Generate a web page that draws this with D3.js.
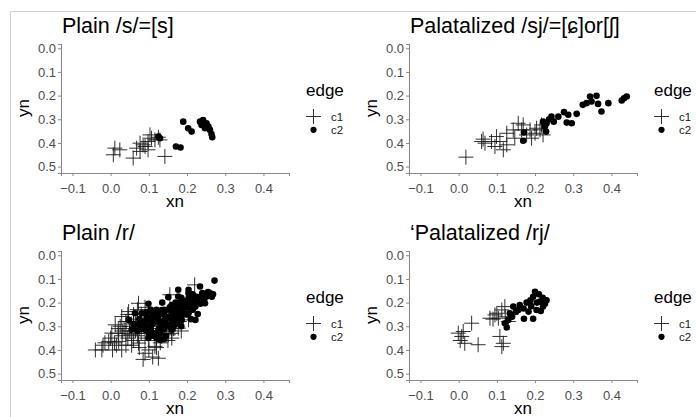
<!DOCTYPE html>
<html>
<head>
<meta charset="utf-8">
<script src="https://cdn.jsdelivr.net/npm/d3@7"></script>
<style>
  body { margin: 0; background: #fff; }
  text { font-family: "Liberation Sans", Arial, sans-serif; }
</style>
</head>
<body>
<div id="chart"></div>
<script>
// panel titles, in reading order
const titles = ["Plain /s/=[s]", "Palatalized /sj/=[ɕ]or[ʃ]", "Plain /r/", "‘Palatalized /rj/"]
const xTicks = [-0.1, 0.0, 0.1, 0.2, 0.3, 0.4]
const yTicks = [0.0, 0.1, 0.2, 0.3, 0.4, 0.5]
const edgeLevels = ["c1", "c2"]

// [xn, yn] per edge
const plainS_c1 = [[0.011, 0.422], [0.024, 0.429], [0.007, 0.45], [0.059, 0.464], [0.068, 0.422], [0.077, 0.401],
    [0.085, 0.408], [0.077, 0.436], [0.098, 0.394], [0.103, 0.366], [0.107, 0.38], [0.116, 0.387], [0.129, 0.387],
    [0.098, 0.429], [0.142, 0.457], [0.09, 0.415], [0.125, 0.376]]
const plainS_c2 = [[0.125, 0.373], [0.129, 0.38], [0.171, 0.415], [0.183, 0.419], [0.19, 0.31], [0.203, 0.338],
    [0.212, 0.352], [0.234, 0.31], [0.242, 0.303], [0.238, 0.324], [0.251, 0.317], [0.256, 0.331], [0.247, 0.338],
    [0.26, 0.345], [0.264, 0.362], [0.266, 0.376]]

const palS_c1 = [[0.019, 0.46], [0.06, 0.394], [0.069, 0.401], [0.064, 0.384], [0.086, 0.394], [0.095, 0.415],
    [0.099, 0.373], [0.108, 0.394], [0.126, 0.408], [0.117, 0.429], [0.126, 0.359], [0.143, 0.345], [0.156, 0.317],
    [0.169, 0.324], [0.165, 0.345], [0.178, 0.366], [0.187, 0.345], [0.191, 0.38], [0.2, 0.359], [0.204, 0.338],
    [0.213, 0.345], [0.221, 0.366], [0.217, 0.324], [0.147, 0.38]]
const palS_c2 = [[0.171, 0.356], [0.169, 0.391], [0.221, 0.31], [0.23, 0.317], [0.226, 0.331], [0.229, 0.352],
    [0.243, 0.289], [0.249, 0.31], [0.261, 0.289], [0.276, 0.27], [0.287, 0.281], [0.283, 0.314], [0.296, 0.317],
    [0.309, 0.277], [0.325, 0.239], [0.335, 0.232], [0.344, 0.204], [0.348, 0.225], [0.361, 0.201], [0.365, 0.235],
    [0.374, 0.267], [0.392, 0.232], [0.427, 0.221], [0.433, 0.211], [0.44, 0.204], [0.237, 0.3]]

const plainR_c1 = [[0.22, 0.125], [0.155, 0.167], [0.073, 0.203], [0.029, 0.259], [0.012, 0.294], [0.003, 0.329],
    [-0.023, 0.4], [-0.04, 0.4], [-0.005, 0.364], [0.021, 0.364], [0.029, 0.4], [0.073, 0.371], [0.09, 0.414],
    [0.125, 0.435], [0.055, 0.336], [0.047, 0.238], [0.099, 0.231], [0.134, 0.343], [0.151, 0.336], [0.177, 0.308],
    [0.204, 0.273], [0.116, 0.385], [0.0, 0.35], [0.01, 0.37], [0.02, 0.33], [0.035, 0.31], [0.04, 0.28],
    [0.05, 0.3], [0.06, 0.27], [0.065, 0.32], [0.08, 0.3], [0.085, 0.27], [0.095, 0.33], [0.1, 0.36],
    [0.105, 0.29], [0.12, 0.31], [0.13, 0.37], [0.14, 0.3], [0.16, 0.33], [0.17, 0.29], [0.19, 0.26],
    [0.11, 0.26], [0.06, 0.36], [0.045, 0.35], [0.025, 0.3], [0.015, 0.38], [-0.015, 0.37], [0.085, 0.44],
    [0.075, 0.39], [0.15, 0.36], [0.045, 0.25], [0.07, 0.23], [0.09, 0.22], [0.03, 0.34],
    [0.02, 0.31], [0.03, 0.32], [0.04, 0.33], [0.05, 0.32], [0.055, 0.29], [0.065, 0.29], [0.07, 0.34],
    [0.075, 0.31], [0.08, 0.33], [0.09, 0.35], [0.095, 0.3], [0.1, 0.32], [0.11, 0.3], [0.12, 0.35],
    [0.13, 0.32], [0.145, 0.32], [0.155, 0.3], [0.16, 0.35], [0.165, 0.31], [0.18, 0.28], [0.185, 0.32],
    [0.07, 0.28], [0.06, 0.25], [0.08, 0.25], [-0.02, 0.38], [0.005, 0.4], [0.04, 0.38], [0.055, 0.38],
    [0.1, 0.4], [0.12, 0.39], [0.14, 0.33], [0.11, 0.43]]
const plainR_c2 = [[0.272, 0.107], [0.234, 0.132], [0.256, 0.167], [0.238, 0.172], [0.247, 0.203], [0.222, 0.273],
    [0.151, 0.177], [0.099, 0.205], [0.177, 0.146], [0.204, 0.16], [0.217, 0.181], [0.191, 0.196], [0.169, 0.217],
    [0.134, 0.231], [0.116, 0.259], [0.094, 0.273], [0.073, 0.294], [0.055, 0.315], [0.099, 0.35], [0.129, 0.357],
    [0.16, 0.315], [0.204, 0.245], [0.186, 0.273], [0.142, 0.273], [0.081, 0.245], [0.047, 0.273], [0.169, 0.259],
    [0.125, 0.315], [0.09, 0.315], [0.064, 0.245], [0.195, 0.217], [0.222, 0.217], [0.177, 0.174], [0.16, 0.245],
    [0.107, 0.287], [0.204, 0.146], [0.11, 0.25], [0.12, 0.27], [0.13, 0.29], [0.14, 0.25], [0.15, 0.23],
    [0.155, 0.265], [0.165, 0.28], [0.175, 0.235], [0.18, 0.2], [0.185, 0.25], [0.19, 0.23], [0.2, 0.19],
    [0.21, 0.2], [0.215, 0.23], [0.23, 0.19], [0.24, 0.16], [0.26, 0.16], [0.265, 0.175], [0.085, 0.29],
    [0.1, 0.3], [0.115, 0.33], [0.14, 0.31], [0.15, 0.3], [0.17, 0.29], [0.06, 0.29], [0.075, 0.27],
    [0.095, 0.26], [0.105, 0.23], [0.125, 0.245], [0.135, 0.2], [0.16, 0.21], [0.145, 0.34], [0.11, 0.34],
    [0.2, 0.25], [0.21, 0.27], [0.228, 0.248],
    [0.06, 0.31], [0.07, 0.32], [0.08, 0.28], [0.09, 0.3], [0.1, 0.27], [0.105, 0.31], [0.115, 0.28],
    [0.12, 0.23], [0.125, 0.26], [0.13, 0.33], [0.135, 0.28], [0.14, 0.23], [0.145, 0.29], [0.15, 0.26],
    [0.155, 0.22], [0.16, 0.28], [0.165, 0.24], [0.17, 0.2], [0.175, 0.26], [0.18, 0.22], [0.185, 0.18],
    [0.19, 0.25], [0.195, 0.2], [0.2, 0.22], [0.205, 0.175], [0.21, 0.22], [0.22, 0.2], [0.225, 0.175],
    [0.235, 0.205], [0.245, 0.185], [0.12, 0.35], [0.1, 0.33], [0.08, 0.31], [0.13, 0.31], [0.11, 0.29],
    [0.165, 0.3], [0.175, 0.28], [0.185, 0.3], [0.14, 0.355], [0.095, 0.24], [0.25, 0.175], [0.255, 0.155],
    [0.268, 0.165], [0.215, 0.165]]

const palR_c1 = [[-0.001, 0.329], [0.012, 0.322], [0.008, 0.343], [0.016, 0.372], [0.004, 0.36], [0.034, 0.287],
    [0.051, 0.378], [0.082, 0.266], [0.095, 0.252], [0.104, 0.266], [0.113, 0.231], [0.121, 0.217], [0.108, 0.343],
    [0.117, 0.372], [0.113, 0.386], [0.13, 0.28], [0.09, 0.27], [0.122, 0.26], [0.1, 0.245]]
const palR_c2 = [[0.126, 0.305], [0.134, 0.245], [0.143, 0.217], [0.16, 0.21], [0.178, 0.2], [0.195, 0.175],
    [0.2, 0.154], [0.213, 0.196], [0.221, 0.217], [0.204, 0.231], [0.183, 0.238], [0.156, 0.231], [0.13, 0.273],
    [0.121, 0.287], [0.171, 0.268], [0.195, 0.268], [0.21, 0.165], [0.22, 0.18], [0.23, 0.19], [0.226, 0.205],
    [0.19, 0.215], [0.17, 0.225], [0.15, 0.24], [0.14, 0.26], [0.205, 0.2], [0.215, 0.235], [0.188, 0.19]]

const panelData = [[plainS_c1, plainS_c2], [palS_c1, palS_c2], [plainR_c1, plainR_c2], [palR_c1, palR_c2]]

var width = 696
var height = 417

var svg = d3.select("#chart")
    .append("svg")
    .attr("width", width)
    .attr("height", height)

svg.append("rect").attr("width", width).attr("height", height).attr("fill", "#fff")
// thin frame on top / left
svg.append("path")
    .attr("d", "M10.5," + height + "V11.5H" + width)
    .attr("fill", "none")
    .attr("stroke", "#d0d0d0")

var x = d3.scaleLinear().domain([-0.13, 0.467]).range([61, 289])
var y = d3.scaleLinear().domain([-0.018, 0.527]).range([44, 173])

function crossPath(s) {
    return "M" + (-s) + ",0H" + s + "M0," + (-s) + "V" + s
}

panelData.forEach(function (series, i) {
    var ox = (i % 2) * 348
    var oy = Math.floor(i / 2) * 207
    var g = svg.append("g").attr("transform", "translate(" + ox + "," + oy + ")")

    g.append("text")
        .attr("x", 62)
        .attr("y", 33)
        .style("font-size", "21.5px")
        .style("fill", "#000")
        .text(titles[i])

    // axes
    var xAxis = g.append("g")
        .attr("transform", "translate(0,173)")
        .call(d3.axisBottom(x).tickValues(xTicks).tickFormat(d3.format(".1f")).tickSizeOuter(0).tickSize(3))
    var yAxis = g.append("g")
        .attr("transform", "translate(61,0)")
        .call(d3.axisLeft(y).tickValues(yTicks).tickFormat(d3.format(".1f")).tickSizeOuter(0).tickSize(3))
    ;[xAxis, yAxis].forEach(function (a) {
        a.select(".domain").attr("stroke", "#8a8a8a").attr("stroke-width", 1.1)
        a.selectAll(".tick line").attr("stroke", "#8a8a8a")
        a.selectAll(".tick text")
            .style("font-family", "'Liberation Sans', Arial, sans-serif")
            .style("font-size", "13px")
            .attr("fill", "#4d4d4d")
    })
    xAxis.selectAll(".tick text").attr("dy", "1.05em")
    yAxis.selectAll(".tick text").attr("x", -5)

    g.append("text")
        .attr("x", 175)
        .attr("y", 206.5)
        .attr("text-anchor", "middle")
        .style("font-size", "17px")
        .text("xn")
    g.append("text")
        .attr("transform", "translate(28.5,108) rotate(-90)")
        .attr("text-anchor", "middle")
        .style("font-size", "17px")
        .text("yn")

    // points: c1 as plus, c2 as filled dot
    g.append("g").selectAll("path")
        .data(series[0]).enter().append("path")
        .attr("transform", function (d) { return "translate(" + x(d[0]) + "," + y(d[1]) + ")" })
        .attr("d", crossPath(7.5))
        .attr("fill", "none")
        .attr("stroke", "#1a1a1a")
        .attr("stroke-width", 0.9)
    g.append("g").selectAll("circle")
        .data(series[1]).enter().append("circle")
        .attr("cx", function (d) { return x(d[0]) })
        .attr("cy", function (d) { return y(d[1]) })
        .attr("r", 3.3)
        .attr("fill", "#000")

    // legend
    var lg = g.append("g").attr("transform", "translate(306,0)")
    lg.append("text")
        .attr("x", 0)
        .attr("y", 96)
        .style("font-size", "17px")
        .text("edge")
    lg.append("path")
        .attr("transform", "translate(7.5,116.5)")
        .attr("d", crossPath(7.5))
        .attr("fill", "none")
        .attr("stroke", "#1a1a1a")
        .attr("stroke-width", 0.9)
    lg.append("circle")
        .attr("cx", 7.5)
        .attr("cy", 129.8)
        .attr("r", 3.1)
        .attr("fill", "#000")
    lg.selectAll("text.lab")
        .data(edgeLevels).enter().append("text")
        .attr("class", "lab")
        .attr("x", 25)
        .attr("y", function (d, j) { return 120.5 + j * 13.5 })
        .style("font-size", "11.5px")
        .attr("fill", "#1a1a1a")
        .text(function (d) { return d })
})
</script>
</body>
</html>
